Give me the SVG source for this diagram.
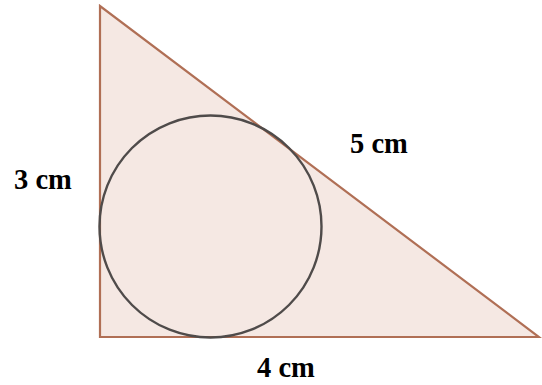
<svg xmlns="http://www.w3.org/2000/svg" width="542" height="385" viewBox="0 0 542 385">
<style>
.lbl{font-family:"Liberation Serif","Times New Roman",serif;font-weight:bold;font-size:28.5px;fill:#000}
</style>
<rect width="542" height="385" fill="#fff"/>
<g id="triangle">
<polygon points="100,6 100,337 539,337" fill="#f5e8e3" stroke="#b06f55" stroke-width="2.2" stroke-linejoin="miter"/>
</g>
<g id="incircle">
<circle cx="210.5" cy="226.5" r="111" fill="none" stroke="#4f4b4a" stroke-width="2.4"/>
</g>
<g id="labels">
<text class="lbl" x="14" y="189">3 cm</text>
<text class="lbl" x="350" y="153">5 cm</text>
<text class="lbl" x="257" y="376.5">4 cm</text>
</g>
</svg>
